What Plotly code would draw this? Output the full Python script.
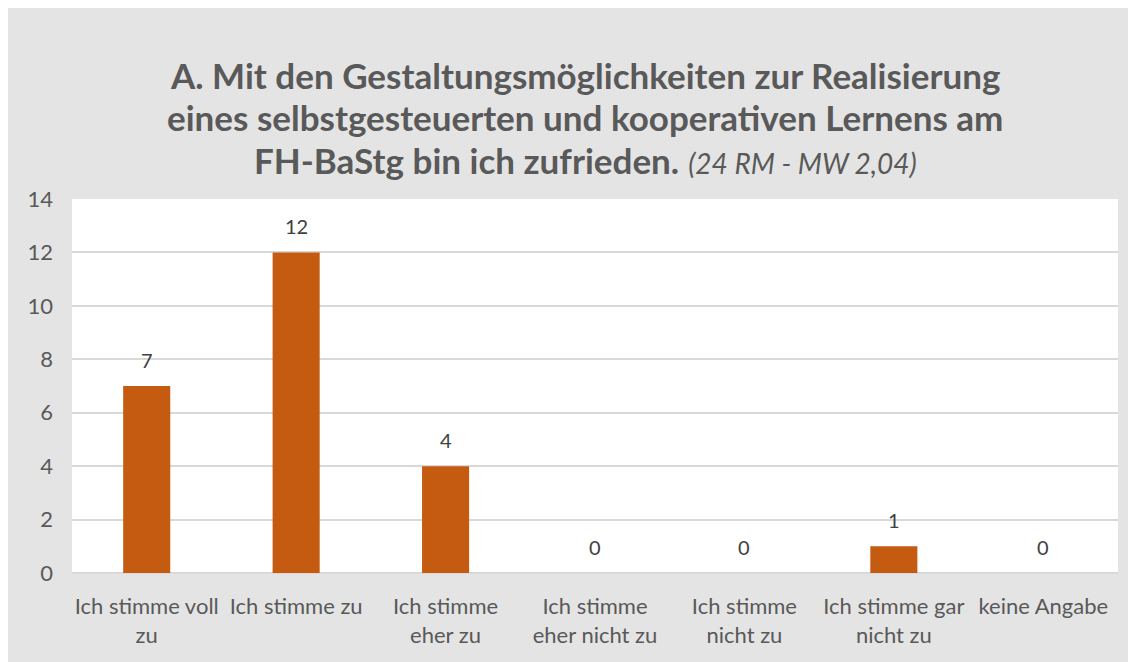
import plotly.graph_objects as go

categories = ["Ich stimme voll<br>zu", "Ich stimme zu", "Ich stimme<br>eher zu",
              "Ich stimme<br>eher nicht zu", "Ich stimme<br>nicht zu",
              "Ich stimme gar<br>nicht zu", "keine Angabe"]
values = [7, 12, 4, 0, 0, 1, 0]
y_ticks = [0, 2, 4, 6, 8, 10, 12, 14]
title_lines = [
    "<b>A. Mit den Gestaltungsmöglichkeiten zur Realisierung</b>",
    "<b>eines selbstgesteuerten und kooperativen Lernens am</b>",
    "<b>FH-BaStg bin ich zufrieden.</b> <i><span style='font-size:28px'>(24 RM - MW 2,04)</span></i>",
]

FONT = "Lato, Noto Sans, sans-serif"
GREY_BG = "#E4E4E4"
TXT = "#595959"

fig = go.Figure()
fig.add_trace(go.Bar(
    x=categories, y=values, marker_color="#C55A11", marker_line_width=0,
    hoverinfo="skip",
))

W, H = 1128, 654
L, T = 64, 191
R, B = W - 1110, H - 565
pw, ph = W - L - R, H - T - B

annotations = []
for c, v in zip(categories, values):
    annotations.append(dict(x=c, y=v, xref="x", yref="y", text=str(v), showarrow=False,
                            yanchor="bottom", yshift=12,
                            font=dict(family=FONT, size=20, color="#404040")))
title_y_px = [67, 109, 152]
for line, ypx in zip(title_lines, title_y_px):
    annotations.append(dict(x=(577 - L) / pw, y=1 + (T - ypx) / ph, xref="paper", yref="paper",
                            text=line, showarrow=False, xanchor="center", yanchor="middle",
                            font=dict(family=FONT, size=35, color=TXT)))

fig.update_layout(
    width=W, height=H,
    margin=dict(l=L, r=R, t=T, b=B, pad=0),
    paper_bgcolor=GREY_BG, plot_bgcolor="white",
    showlegend=False, bargap=0.685,
    font=dict(family=FONT, color=TXT, size=22),
    annotations=annotations,
    xaxis=dict(showgrid=False, showline=False, ticks="", tickfont=dict(size=22, color=TXT),
               ticklabelstandoff=18, fixedrange=True),
    yaxis=dict(range=[0, 14], tickvals=y_ticks, showgrid=True, gridcolor="#D9D9D9",
               gridwidth=1.5, zeroline=True, zerolinecolor="#D9D9D9", zerolinewidth=1.5,
               tickfont=dict(size=22, color=TXT), ticklabelstandoff=18, fixedrange=True),
)

fig.write_html("out.html")
